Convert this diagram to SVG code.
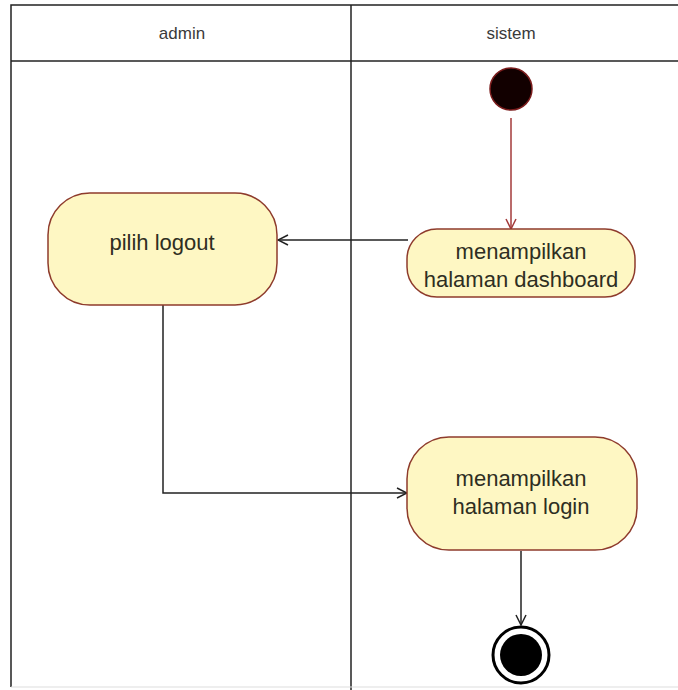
<svg xmlns="http://www.w3.org/2000/svg" width="678" height="690" viewBox="0 0 678 690">
  <defs>
    <marker id="open" viewBox="0 0 12 12" refX="11" refY="6" markerWidth="12" markerHeight="12" markerUnits="userSpaceOnUse" orient="auto">
      <path d="M1,1 L11,6 L1,11" fill="none" stroke="#222" stroke-width="1.5"/>
    </marker>
    <marker id="openRed" viewBox="0 0 12 12" refX="11" refY="6" markerWidth="12" markerHeight="12" markerUnits="userSpaceOnUse" orient="auto">
      <path d="M1,1 L11,6 L1,11" fill="none" stroke="#a33a3a" stroke-width="1.5"/>
    </marker>
  </defs>
  <style>
    .lane { fill: none; stroke: #222; stroke-width: 1.5; }
    .hdr { font-family: "Liberation Sans", Arial, sans-serif; font-size: 17px; fill: #3a3a3a; text-anchor: middle; }
    .act { fill: #fef7c3; stroke: #8e3b2c; stroke-width: 1.5; }
    .lbl { font-family: "Liberation Sans", Arial, sans-serif; font-size: 22px; fill: #2e2e22; text-anchor: middle; }
    .flow { fill: none; stroke: #222; stroke-width: 1.5; }
  </style>
  <rect width="678" height="690" fill="#ffffff"/>

  <!-- swimlanes -->
  <g id="lanes">
    <path class="lane" d="M11,687 L11,5 L678,5"/>
    <line class="lane" x1="11" y1="61" x2="678" y2="61"/>
    <line class="lane" x1="351" y1="5" x2="351" y2="690"/>
    <line x1="11" y1="687" x2="678" y2="687" stroke="#ddd" stroke-width="1"/>
    <text class="hdr" x="182" y="39">admin</text>
    <text class="hdr" x="511" y="39">sistem</text>
  </g>

  <!-- connectors -->
  <g id="connectors">
    <line x1="511" y1="118" x2="511" y2="229" fill="none" stroke="#a33a3a" stroke-width="1.5" marker-end="url(#openRed)"/>
    <line class="flow" x1="408" y1="240" x2="278" y2="240" marker-end="url(#open)"/>
    <polyline class="flow" points="163,305 163,493 407,493" marker-end="url(#open)"/>
    <line class="flow" x1="521" y1="551" x2="521" y2="625" marker-end="url(#open)"/>
  </g>

  <g id="start">
    <circle cx="511" cy="89" r="21" fill="#120000" stroke="#7a1c1c" stroke-width="1.5"/>
  </g>

  <g id="tampil-dashboard">
    <rect class="act" x="407" y="229" width="228" height="68" rx="30"/>
    <text class="lbl" x="521" y="259">menampilkan</text>
    <text class="lbl" x="521" y="287">halaman dashboard</text>
  </g>

  <g id="pilih-logout">
    <rect class="act" x="48" y="193" width="229" height="112" rx="42"/>
    <text class="lbl" x="162" y="250">pilih logout</text>
  </g>

  <g id="tampil-login">
    <rect class="act" x="407" y="437" width="230" height="113" rx="42"/>
    <text class="lbl" x="521" y="486">menampilkan</text>
    <text class="lbl" x="521" y="514">halaman login</text>
  </g>

  <g id="end">
    <circle cx="521" cy="655" r="28" fill="#fff" stroke="#000" stroke-width="3"/>
    <circle cx="521" cy="655" r="21" fill="#000"/>
  </g>
</svg>
